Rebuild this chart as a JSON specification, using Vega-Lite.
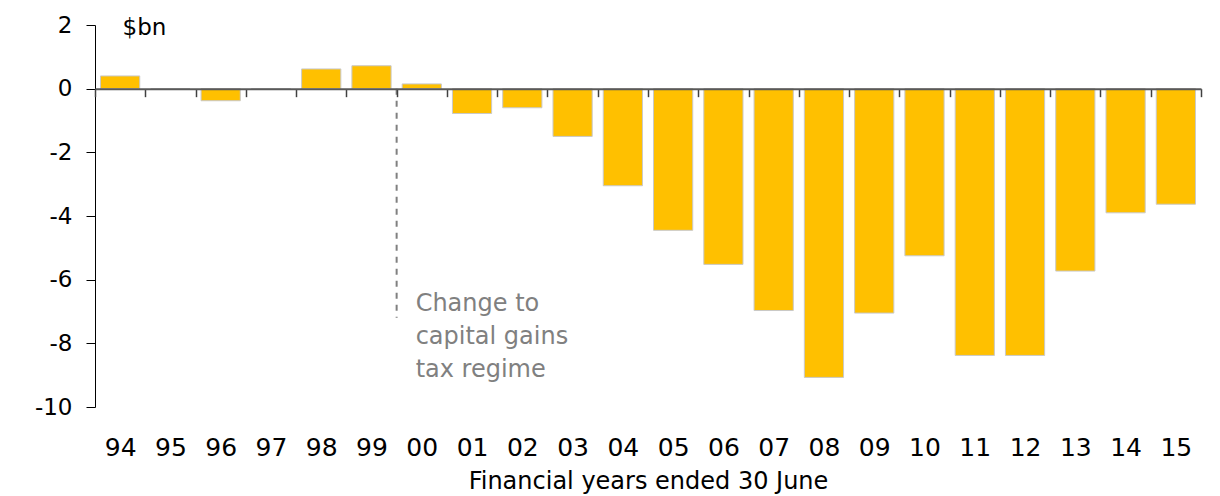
{
  "$schema": "https://vega.github.io/schema/vega-lite/v6.json",
  "width": 1106,
  "height": 382,
  "autosize": "none",
  "padding": {"left": 95, "top": 25, "right": 19, "bottom": 89},
  "background": "white",
  "config": {
    "view": {"stroke": null},
    "font": "DejaVu Sans",
    "axis": {"labelFont": "DejaVu Sans", "titleFont": "DejaVu Sans", "grid": false}
  },
  "data": {
    "values": [
      {"year": "94", "value": 0.4},
      {"year": "95", "value": 0},
      {"year": "96", "value": -0.38},
      {"year": "97", "value": 0},
      {"year": "98", "value": 0.62},
      {"year": "99", "value": 0.72},
      {"year": "00", "value": 0.15},
      {"year": "01", "value": -0.78},
      {"year": "02", "value": -0.6},
      {"year": "03", "value": -1.5},
      {"year": "04", "value": -3.05},
      {"year": "05", "value": -4.45},
      {"year": "06", "value": -5.52},
      {"year": "07", "value": -6.97},
      {"year": "08", "value": -9.07},
      {"year": "09", "value": -7.05},
      {"year": "10", "value": -5.25},
      {"year": "11", "value": -8.38},
      {"year": "12", "value": -8.38},
      {"year": "13", "value": -5.73},
      {"year": "14", "value": -3.9},
      {"year": "15", "value": -3.63}
    ]
  },
  "layer": [
    {
      "mark": {"type": "bar", "fill": "#FFC000", "stroke": "#c9c9c9", "strokeWidth": 1, "width": {"band": 0.78}},
      "encoding": {
        "x": {
          "field": "year",
          "type": "ordinal",
          "sort": null,
          "scale": {
            "domain": ["94", "95", "96", "97", "98", "99", "00", "01", "02", "03", "04", "05", "06", "07", "08", "09", "10", "11", "12", "13", "14", "15"],
            "paddingInner": 0,
            "paddingOuter": 0
          },
          "axis": {
            "orient": "bottom",
            "offset": -318.33,
            "zindex": 1,
            "domain": true,
            "domainColor": "#595959",
            "domainWidth": 2,
            "ticks": true,
            "tickBand": "extent",
            "tickSize": 8,
            "tickColor": "#404040",
            "tickWidth": 1.5,
            "labelAngle": 0,
            "labelPadding": 339,
            "labelFontSize": 25,
            "labelColor": "#000000",
            "labelBaseline": "top",
            "title": "Financial years ended 30 June",
            "titleFontSize": 24,
            "titleFontWeight": "normal",
            "titleColor": "#000000",
            "titleBaseline": "alphabetic",
            "titleY": 400
          }
        },
        "y": {
          "field": "value",
          "type": "quantitative",
          "scale": {"domain": [-10, 2], "nice": false, "zero": false},
          "axis": {
            "values": [-10, -8, -6, -4, -2, 0, 2],
            "labelExpr": "'' + datum.value",
            "domainColor": "#000000",
            "domainWidth": 1,
            "tickColor": "#000000",
            "tickSize": 9,
            "labelPadding": 14,
            "labelFontSize": 23,
            "labelColor": "#000000",
            "title": "$bn",
            "titleAngle": 0,
            "titleAlign": "left",
            "titleBaseline": "alphabetic",
            "titleX": 27,
            "titleY": 9,
            "titleFontSize": 23,
            "titleFontWeight": "normal",
            "titleColor": "#000000"
          }
        }
      }
    },
    {
      "data": {"values": [{"year": "00", "start": 0, "end": -7.2}]},
      "mark": {"type": "rule", "stroke": "#808080", "strokeWidth": 2, "strokeDash": [6, 6]},
      "encoding": {
        "x": {"field": "year", "type": "ordinal", "bandPosition": 0},
        "y": {"field": "start", "type": "quantitative"},
        "y2": {"field": "end"}
      }
    },
    {
      "data": {"values": [{"year": "00", "pos": -6.39, "label": "Change to\ncapital gains\ntax regime"}]},
      "mark": {"type": "text", "align": "left", "baseline": "top", "dx": 19, "fontSize": 24, "color": "#808080", "lineBreak": "\n", "lineHeight": 33, "font": "DejaVu Sans"},
      "encoding": {
        "x": {"field": "year", "type": "ordinal", "bandPosition": 0},
        "y": {"field": "pos", "type": "quantitative"},
        "text": {"field": "label"}
      }
    }
  ]
}
